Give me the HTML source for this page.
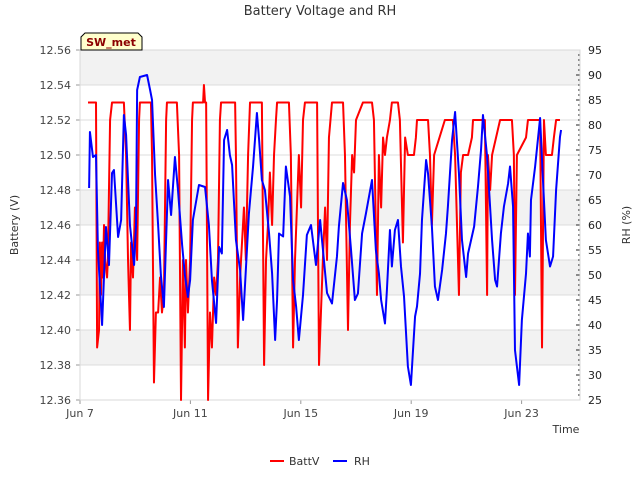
<!DOCTYPE html>
<html><head><meta charset="utf-8"><style>
body{margin:0;background:#fff;}
svg{display:block;font-family:"DejaVu Sans","Liberation Sans",sans-serif;}
</style></head><body>
<svg id="chart" width="640" height="480"></svg>
<script>
const battDays=[0.29,0.58,0.62,0.69,0.72,0.76,0.80,0.83,0.87,0.91,0.98,1.01,1.09,1.16,1.59,1.67,1.74,1.81,1.85,1.92,1.99,2.07,2.14,2.17,2.57,2.61,2.68,2.75,2.83,2.90,2.97,3.04,3.12,3.15,3.51,3.59,3.66,3.73,3.80,3.84,3.91,3.99,4.06,4.09,4.46,4.49,4.53,4.57,4.64,4.71,4.78,4.86,4.93,5.00,5.07,5.11,5.62,5.65,5.72,5.80,5.87,5.94,6.01,6.09,6.16,6.59,6.67,6.74,6.81,6.88,6.96,7.03,7.10,7.14,7.57,7.64,7.72,7.79,7.86,7.93,8.01,8.08,8.15,8.59,8.66,8.73,8.80,8.88,8.95,9.02,9.13,9.53,9.60,9.71,9.78,9.86,9.93,10.00,10.25,10.58,10.65,10.76,10.83,10.91,10.98,11.05,11.12,11.23,11.30,11.52,11.59,11.70,11.78,11.88,12.10,12.17,12.21,12.61,12.68,12.75,12.83,13.22,13.51,13.59,13.73,13.80,13.88,14.06,14.20,14.24,14.67,14.75,14.78,14.86,14.93,15.22,15.65,15.72,15.76,15.83,16.16,16.23,16.67,16.74,16.81,16.88,17.10,17.17,17.25,17.39];
const battVals=[12.53,12.53,12.39,12.40,12.45,12.42,12.45,12.43,12.46,12.44,12.43,12.44,12.52,12.53,12.53,12.50,12.44,12.40,12.45,12.43,12.47,12.44,12.52,12.53,12.53,12.50,12.37,12.41,12.41,12.43,12.41,12.42,12.52,12.53,12.53,12.50,12.36,12.44,12.39,12.44,12.41,12.44,12.52,12.53,12.53,12.54,12.53,12.53,12.36,12.41,12.39,12.43,12.42,12.44,12.52,12.53,12.53,12.50,12.39,12.43,12.45,12.47,12.44,12.50,12.53,12.53,12.38,12.44,12.46,12.49,12.46,12.50,12.52,12.53,12.53,12.50,12.39,12.44,12.47,12.50,12.47,12.52,12.53,12.53,12.38,12.41,12.44,12.47,12.44,12.51,12.53,12.53,12.50,12.40,12.46,12.50,12.49,12.52,12.53,12.53,12.52,12.42,12.50,12.47,12.51,12.50,12.51,12.52,12.53,12.53,12.52,12.45,12.51,12.50,12.50,12.51,12.52,12.52,12.50,12.46,12.50,12.52,12.52,12.50,12.42,12.49,12.50,12.50,12.51,12.52,12.52,12.42,12.50,12.48,12.50,12.52,12.52,12.50,12.42,12.50,12.51,12.52,12.52,12.39,12.52,12.50,12.50,12.51,12.52,12.52];
const rhDays=[0.33,0.36,0.47,0.58,0.65,0.80,0.94,1.05,1.16,1.23,1.38,1.49,1.59,1.67,1.81,1.96,2.03,2.07,2.17,2.43,2.54,2.61,2.72,2.83,2.93,3.04,3.19,3.30,3.44,3.55,3.70,3.80,3.91,3.99,4.09,4.31,4.53,4.67,4.78,4.93,5.04,5.14,5.22,5.33,5.43,5.51,5.65,5.80,5.91,6.12,6.27,6.41,6.49,6.59,6.70,6.85,6.96,7.07,7.14,7.21,7.36,7.46,7.61,7.72,7.83,7.93,8.08,8.22,8.37,8.55,8.70,8.95,9.13,9.31,9.38,9.53,9.67,9.82,9.96,10.07,10.22,10.36,10.58,10.72,10.83,10.91,11.05,11.12,11.23,11.30,11.41,11.52,11.63,11.74,11.88,11.99,12.14,12.21,12.32,12.39,12.54,12.61,12.75,12.86,12.97,13.12,13.26,13.33,13.48,13.59,13.73,13.84,13.99,14.06,14.28,14.42,14.53,14.60,14.75,14.93,15.04,15.11,15.25,15.36,15.51,15.58,15.69,15.76,15.91,16.01,16.16,16.23,16.30,16.34,16.49,16.67,16.78,16.88,17.03,17.14,17.25,17.39,17.43];
const rhVals=[67.4,78.6,73.6,74,55,40,59.6,52,70.4,71,57.6,61,82,78,60,52,60,87,89.6,90,87,85,70,60,50,43.6,69,62,73.6,67,56,50,45.6,49,61,68,67.6,60,49,40.4,55.6,54.3,77,79,74,72,57,51,41,62.3,71.7,82.4,77,69,67,58.3,50.3,37,45,58.3,57.7,71.7,65.7,49,43.7,37,46,58,60,52,61,46.4,44.3,53.7,59.7,68.4,65,55,45,46.3,58.3,62.3,69,55,50.3,45,40.3,47,59,51.7,59,61,51.7,45.7,31.7,28,41.7,43.7,50.3,61,73,70.3,59.7,47.7,45,51,58.3,63.7,77,82.6,70.3,57,49.6,54.3,59.7,67.7,75,82,73.7,57,49,47.7,58.3,63.7,68.3,71.7,63.7,35,28,41,50.3,58.3,53.7,65,71.7,81.4,68.3,57,51.7,53.7,67,77.6,79];
const leftTicks=[12.36,12.38,12.40,12.42,12.44,12.46,12.48,12.50,12.52,12.54,12.56];
const rightTicks=[25,30,35,40,45,50,55,60,65,70,75,80,85,90,95];
const xTickDays=[0,4,8,12,16];
const xTickLabels=["Jun 7","Jun 11","Jun 15","Jun 19","Jun 23"];

const L=80,R=580,T=50,B=400;
const xs=d=>L+d*27.6;
const yl=v=>B-(v-12.36)/(0.20)*(B-T);
const yr=v=>B-(v-25)/70*(B-T);
const NS='http://www.w3.org/2000/svg';
const svg=document.getElementById('chart');
function el(tag,attrs,parent){const e=document.createElementNS(NS,tag);for(const k in attrs)e.setAttribute(k,attrs[k]);(parent||svg).appendChild(e);return e;}

// bands
[[12.54,12.56],[12.46,12.48],[12.42,12.44],[12.38,12.40]].forEach(b=>{
 const r=el('rect',{x:L,y:yl(b[1]),width:R-L,height:yl(b[0])-yl(b[1]),fill:'#f2f2f2'});
 
 
});
leftTicks.forEach(v=>{
 const g=el('line',{x1:L,x2:R,y1:yl(v),y2:yl(v),stroke:'#dcdcdc','stroke-width':1});
 
 
 el('line',{x1:L-4,x2:L,y1:yl(v),y2:yl(v),stroke:'#999'});
 const t=el('text',{x:L-9,y:yl(v)+4,'text-anchor':'end','font-size':11,fill:'#444'});
 t.textContent=v.toFixed(2);
 
 
});
for(let v=25;v<=95;v++){
 const major=v%5===0;
 el('line',{x1:major?R-4:R-2,x2:R,y1:yr(v),y2:yr(v),stroke:'#222'});
}
rightTicks.forEach(v=>{
 const t=el('text',{x:R+8,y:yr(v)+4,'font-size':11,fill:'#222'});
 t.textContent=v;
 
 
});
xTickDays.forEach((d,i)=>{
 el('line',{x1:xs(d),x2:xs(d),y1:B,y2:B+4,stroke:'#999'});
 const t=el('text',{x:xs(d),y:B+17,'text-anchor':'middle','font-size':11,fill:'#444'});
 t.textContent=xTickLabels[i];
 
 
});
el('rect',{x:L,y:T,width:R-L,height:B-T,fill:'none',stroke:'#d8d8d8'});

const bp=el('polyline',{points:battDays.map((d,i)=>xs(d)+','+yl(battVals[i])).join(' '),fill:'none',stroke:'#ff0000','stroke-width':2,'stroke-linejoin':'round'});


const rp=el('polyline',{points:rhDays.map((d,i)=>xs(d)+','+yr(rhVals[i])).join(' '),fill:'none',stroke:'#0000ff','stroke-width':2,'stroke-linejoin':'round'});


</script>
<script>
(function(){
const NS='http://www.w3.org/2000/svg';const svg=document.getElementById('chart');
function el(tag,attrs){const e=document.createElementNS(NS,tag);for(const k in attrs)e.setAttribute(k,attrs[k]);svg.appendChild(e);return e;}
let t;
t=el('text',{x:320,y:15,'text-anchor':'middle','font-size':13,fill:'#333'});t.textContent='Battery Voltage and RH';


t=el('text',{x:18,y:225,'text-anchor':'middle','font-size':11,fill:'#333',transform:'rotate(-90 18 225)'});t.textContent='Battery (V)';


t=el('text',{x:630,y:225,'text-anchor':'middle','font-size':11,fill:'#333',transform:'rotate(-90 630 225)'});t.textContent='RH (%)';


t=el('text',{x:566,y:433,'text-anchor':'middle','font-size':11,fill:'#333'});t.textContent='Time';


const p=el('path',{d:'M81 50 L81 37 L85 33 L138 33 L142 37 L142 50 Z',fill:'#ffffcc',stroke:'#000','stroke-width':1});


t=el('text',{x:111,y:46,'text-anchor':'middle','font-size':11,'font-weight':'bold',fill:'#8b0000'});t.textContent='SW_met';


let l=el('line',{x1:270,x2:284,y1:461,y2:461,stroke:'#ff0000','stroke-width':2});


t=el('text',{x:289,y:465,'font-size':11,fill:'#333'});t.textContent='BattV';


l=el('line',{x1:333,x2:347,y1:461,y2:461,stroke:'#0000ff','stroke-width':2});


t=el('text',{x:354,y:465,'font-size':11,fill:'#333'});t.textContent='RH';


})();
</script>
</body></html>
